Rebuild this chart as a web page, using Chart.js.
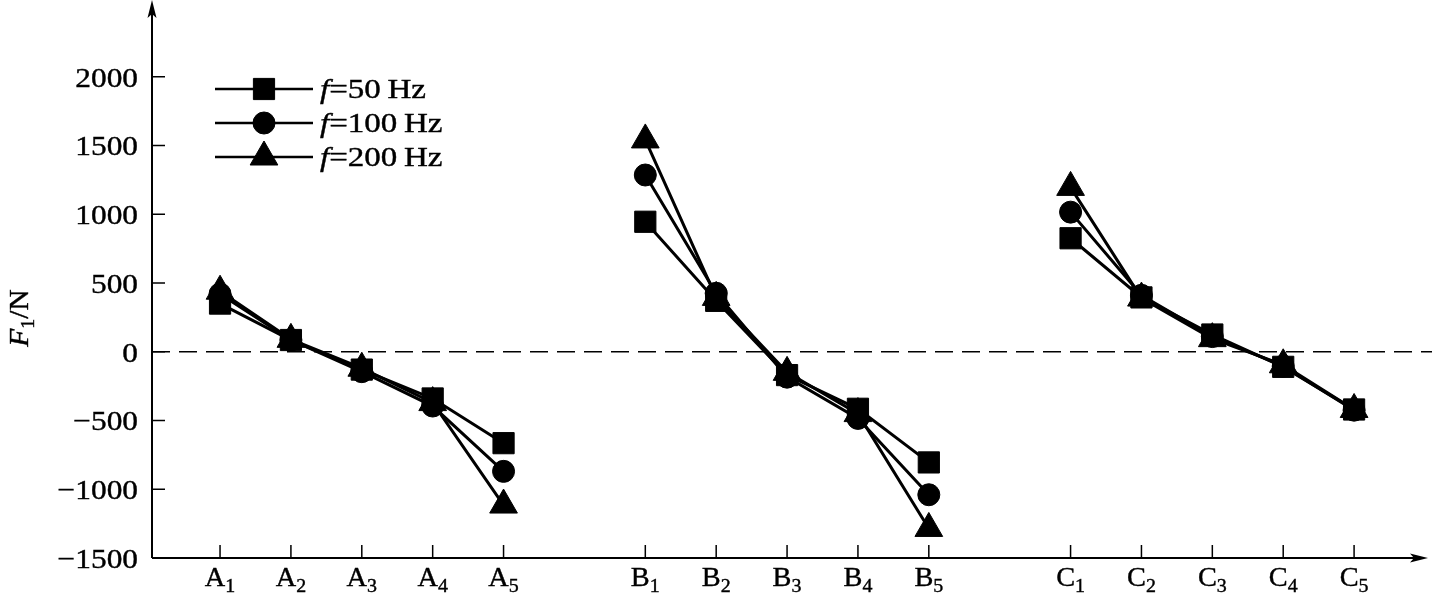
<!DOCTYPE html>
<html>
<head>
<meta charset="utf-8">
<script src="https://cdn.jsdelivr.net/npm/chart.js@4.4.0/dist/chart.umd.min.js"></script>
<style>
html, body { margin: 0; padding: 0; background: #fff; }
#wrap { width: 1432px; height: 594px; }
</style>
</head>
<body>
<div id="wrap"><canvas id="myChart" width="1432" height="594"></canvas></div>
<script>
// categories: letter + subscript, placed on a linear x axis (empty slot between groups)
const catLetters = ['A','A','A','A','A','B','B','B','B','B','C','C','C','C','C'];
const catSubs = ['1','2','3','4','5','1','2','3','4','5','1','2','3','4','5'];
const catPos = [1, 2, 3, 4, 5, 7, 8, 9, 10, 11, 13, 14, 15, 16, 17];

// F1 / N
const f50 = [350, 85, -130, -340, -665, 945, 370, -170, -415, -805, 825, 395, 125, -110, -420];
const f100 = [420, 85, -145, -395, -870, 1285, 425, -185, -485, -1040, 1015, 410, 110, -105, -425];
const f200 = [440, 90, -120, -370, -1115, 1540, 395, -150, -450, -1285, 1195, 390, 95, -95, -420];

const yTicks = [-1500, -1000, -500, 0, 500, 1000, 1500, 2000];
const seriesNames = ['50', '100', '200'];

const SERIF = '"Liberation Serif", "Times New Roman", serif';

// build points, with a null between groups so lines break
function toPoints(vals) {
    const pts = [];
    for (let i = 0; i < vals.length; i++) {
        if (i > 0 && catPos[i] - catPos[i - 1] > 1) pts.push({x: catPos[i] - 1, y: null});
        pts.push({x: catPos[i], y: vals[i]});
    }
    return pts;
}

function makeSet(name, vals, style, r) {
    return {
        label: 'f=' + name + 'Hz',
        data: toPoints(vals),
        borderColor: '#000',
        backgroundColor: '#000',
        borderWidth: 3,
        pointStyle: style,
        pointRadius: r,
        pointBorderWidth: 1,
        pointBorderColor: '#000',
        pointBackgroundColor: '#000',
        spanGaps: false,
        tension: 0
    };
}

function richText(ctx, parts, x, y, align, sx) {
    let w = 0;
    parts.forEach(p => { ctx.font = p[1]; w += ctx.measureText(p[0]).width; });
    ctx.save();
    ctx.translate(x, y);
    ctx.scale(sx, 1);
    let cx = align === 'right' ? -w : (align === 'center' ? -w / 2 : 0);
    ctx.textAlign = 'left';
    ctx.textBaseline = 'alphabetic';
    ctx.fillStyle = '#000';
    ctx.strokeStyle = '#000';
    ctx.lineWidth = 0.4;
    parts.forEach(p => {
        ctx.font = p[1];
        ctx.fillText(p[0], cx, p[2] || 0);
        ctx.strokeText(p[0], cx, p[2] || 0);
        cx += ctx.measureText(p[0]).width;
    });
    ctx.restore();
}

function marker(ctx, style, r, x, y) {
    if (Chart.helpers && Chart.helpers.drawPoint) {
        ctx.fillStyle = '#000';
        ctx.strokeStyle = '#000';
        ctx.lineWidth = 1;
        Chart.helpers.drawPoint(ctx, {pointStyle: style, radius: r, borderWidth: 1, rotation: 0}, x, y);
    }
}

const axesPlugin = {
    id: 'axesPlugin',
    beforeDatasetsDraw(chart) {
        const ctx = chart.ctx;
        const xs = chart.scales.x, ys = chart.scales.y;
        const y0 = ys.getPixelForValue(0);
        ctx.save();
        // dashed zero line
        ctx.strokeStyle = '#000';
        ctx.lineWidth = 1.5;
        ctx.setLineDash([18, 9]);
        ctx.beginPath();
        ctx.moveTo(xs.left, y0);
        ctx.lineTo(chart.width, y0);
        ctx.stroke();
        ctx.setLineDash([]);

        const left = xs.left, bottom = ys.bottom;
        ctx.lineWidth = 2;
        ctx.beginPath();
        ctx.moveTo(left, bottom);
        ctx.lineTo(left, 4);
        ctx.moveTo(left, bottom);
        ctx.lineTo(xs.right + 2, bottom);
        ctx.stroke();
        // arrowheads
        ctx.fillStyle = '#000';
        ctx.beginPath();
        ctx.moveTo(left, 0);
        ctx.lineTo(left - 4.5, 18);
        ctx.lineTo(left, 14);
        ctx.lineTo(left + 4.5, 18);
        ctx.closePath();
        ctx.fill();
        const ax = xs.right + 8;
        ctx.beginPath();
        ctx.moveTo(ax, bottom);
        ctx.lineTo(ax - 18, bottom - 4.5);
        ctx.lineTo(ax - 14, bottom);
        ctx.lineTo(ax - 18, bottom + 4.5);
        ctx.closePath();
        ctx.fill();

        // inward ticks
        ctx.lineWidth = 1.5;
        ctx.beginPath();
        yTicks.forEach(v => {
            const py = ys.getPixelForValue(v);
            ctx.moveTo(left, py);
            ctx.lineTo(left + 13, py);
        });
        catPos.forEach(p => {
            const px = xs.getPixelForValue(p);
            ctx.moveTo(px, bottom);
            ctx.lineTo(px, bottom - 13);
        });
        ctx.stroke();
        ctx.restore();
    },
    afterDraw(chart) {
        const ctx = chart.ctx;
        const xs = chart.scales.x, ys = chart.scales.y;
        // y tick labels
        yTicks.forEach(v => {
            const py = ys.getPixelForValue(v);
            const txt = v < 0 ? '\u2212' + Math.abs(v) : String(v);
            richText(ctx, [[txt, '28px ' + SERIF, 0]], 138, py + 10, 'right', 1.12);
        });
        // x tick labels
        catPos.forEach((p, i) => {
            const px = xs.getPixelForValue(p);
            richText(ctx, [[catLetters[i], '27px ' + SERIF, 0], [catSubs[i], '19px ' + SERIF, 6]], px, 586, 'center', 1.05);
        });
        // y title
        ctx.save();
        ctx.translate(28, 318);
        ctx.rotate(-Math.PI / 2);
        richText(ctx, [['F', 'italic 28px ' + SERIF, 0], ['1', '19px ' + SERIF, 6], ['/N', '28px ' + SERIF, 0]], 0, 0, 'center', 1.05);
        ctx.restore();
        // legend
        const rowsY = [89, 123, 157];
        chart.data.datasets.forEach((ds, i) => {
            const y = rowsY[i];
            ctx.save();
            ctx.strokeStyle = '#000';
            ctx.lineWidth = 2.5;
            ctx.beginPath();
            ctx.moveTo(215, y);
            ctx.lineTo(313, y);
            ctx.stroke();
            marker(ctx, ds.pointStyle, ds.pointRadius, 264, y);
            ctx.restore();
            richText(ctx, [['f', 'italic 28px ' + SERIF, 0], ['=' + seriesNames[i], '28px ' + SERIF, 0], ['\u2009Hz', '28px ' + SERIF, 0]], 320, y + 9, 'left', 1.18);
        });
    }
};

const data = {
    datasets: [
        makeSet('50', f50, 'rect', 15),
        makeSet('100', f100, 'circle', 11),
        makeSet('200', f200, 'triangle', 16)
    ]
};

const config = {
    type: 'line',
    data: data,
    options: {
        responsive: false,
        animation: false,
        layout: { autoPadding: false, padding: { left: 152, right: 12, top: 2, bottom: 36 } },
        scales: {
            x: { type: 'linear', min: 0.04, max: 17.93, display: false },
            y: { type: 'linear', min: -1500, max: 2543, display: false }
        },
        plugins: {
            legend: { display: false },
            tooltip: { enabled: false }
        }
    },
    plugins: [axesPlugin]
};

const myChart = new Chart(document.getElementById('myChart'), config);
</script>
</body>
</html>
